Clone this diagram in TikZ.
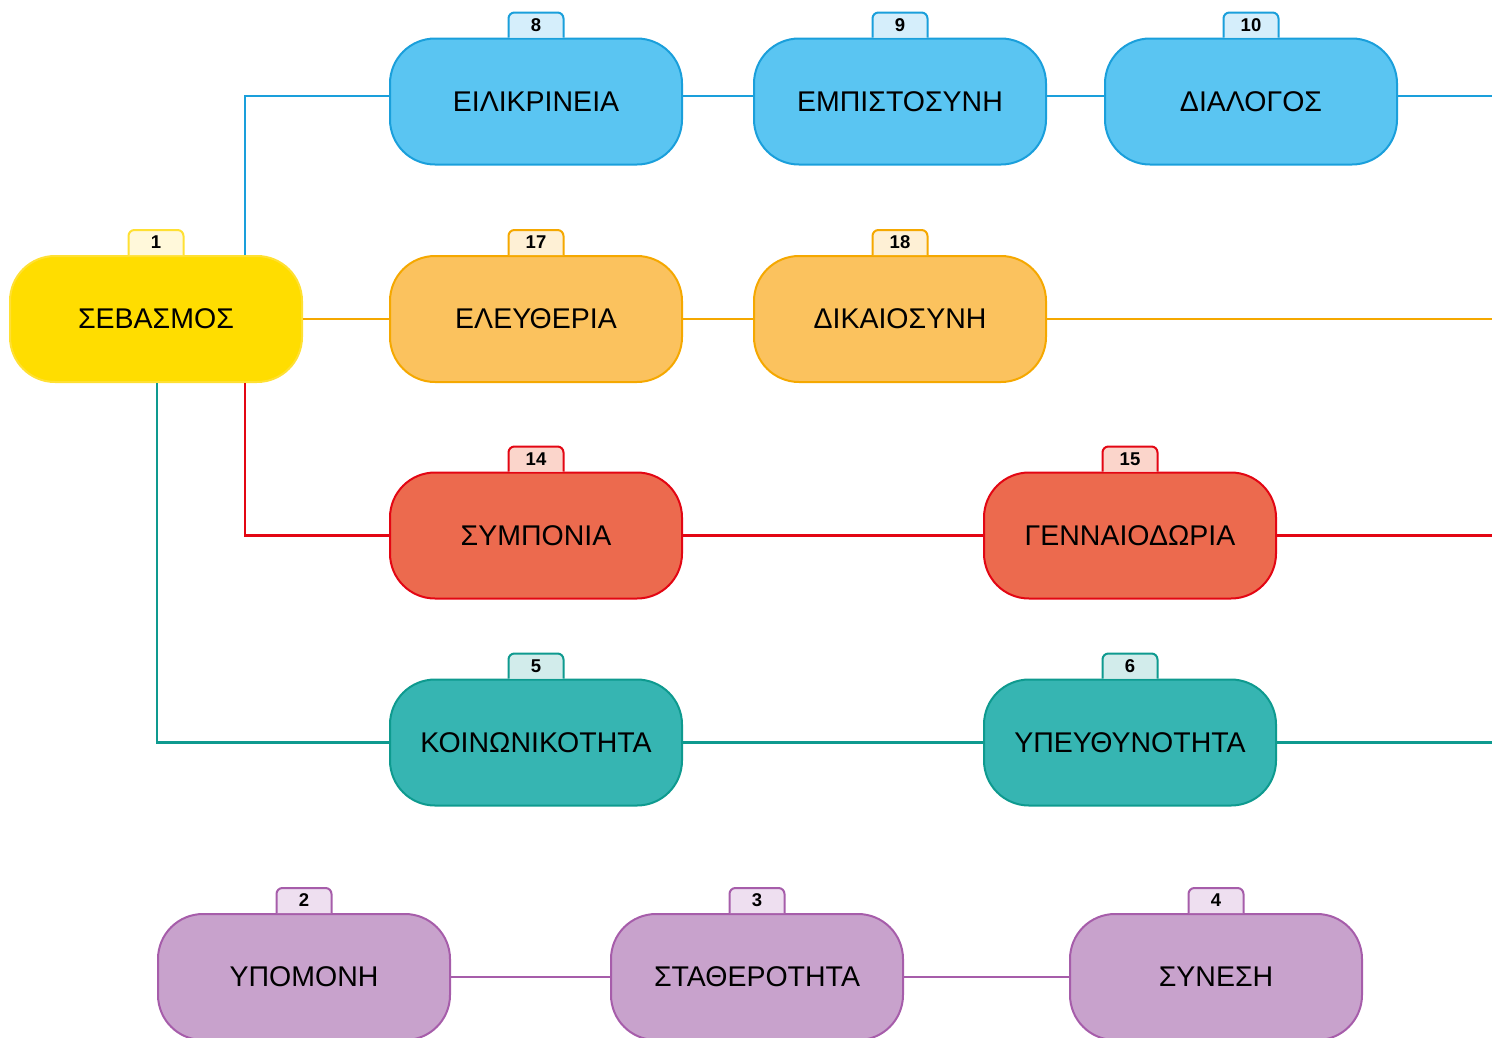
\documentclass[tikz,border=0pt]{standalone}
\usepackage{fontspec}
\setmainfont{Liberation Sans}
\definecolor{yF}{HTML}{FFDD00}\definecolor{yB}{HTML}{FFE033}\definecolor{yT}{HTML}{FFF8DA}
\definecolor{bF}{HTML}{5AC5F2}\definecolor{bB}{HTML}{1A9FDB}\definecolor{bT}{HTML}{D5EEFB}
\definecolor{oF}{HTML}{FBC25E}\definecolor{oB}{HTML}{F5A800}\definecolor{oT}{HTML}{FEF0D5}
\definecolor{rF}{HTML}{EC6A4E}\definecolor{rB}{HTML}{E30613}\definecolor{rT}{HTML}{FBD5CB}
\definecolor{tF}{HTML}{36B5B2}\definecolor{tB}{HTML}{0E9A8F}\definecolor{tT}{HTML}{D2ECEB}
\definecolor{pF}{HTML}{C8A2CC}\definecolor{pB}{HTML}{A65DAA}\definecolor{pT}{HTML}{EEDFF0}
\tikzset{
  box/.style={draw=#1B, fill=#1F, line width=2pt, rounded corners=45pt,
    minimum width=292pt, minimum height=126pt, inner sep=0pt,
    font=\fontsize{28.5}{34}\selectfont},
  tabtxt/.style={inner sep=0pt, font=\bfseries\fontsize{18.5}{22}\selectfont},
  conn/.style={line width=2.2pt, draw=#1B},
}
\newcommand\mytab[3]{%
  \draw[line width=2pt, draw=#3B, fill=#3T, rounded corners=6pt]
    ([xshift=-27.5pt]#1.north) -- ([xshift=-27.5pt,yshift=25pt]#1.north)
    -- ([xshift=27.5pt,yshift=25pt]#1.north) -- ([xshift=27.5pt]#1.north);
  \node[tabtxt] (#1-tab) at ([yshift=12.5pt]#1.north) {#2};
}
\begin{document}
\begin{tikzpicture}[x=1pt,y=-1pt]
\useasboundingbox (0,0) rectangle (1492,1037);
% nodes
\node[box=y] (sev) at (156,319) {\raisebox{-1.5pt}{ΣΕΒΑΣΜΟΣ}};
\node[box=b] (eil) at (536,101.5) {ΕΙΛΙΚΡΙΝΕΙΑ};
\node[box=b] (emp) at (900,101.5) {ΕΜΠΙΣΤΟΣΥΝΗ};
\node[box=b] (dia) at (1251,101.5) {ΔΙΑΛΟΓΟΣ};
\node[box=o] (ele) at (536,319) {\raisebox{-1.5pt}{ΕΛΕΥΘΕΡΙΑ}};
\node[box=o] (dik) at (900,319) {\raisebox{-1.5pt}{ΔΙΚΑΙΟΣΥΝΗ}};
\node[box=r] (sym) at (536,535.5) {ΣΥΜΠΟΝΙΑ};
\node[box=r] (gen) at (1130,535.5) {ΓΕΝΝΑΙΟΔΩΡΙΑ};
\node[box=t] (koi) at (536,742.5) {ΚΟΙΝΩΝΙΚΟΤΗΤΑ};
\node[box=t] (ype) at (1130,742.5) {ΥΠΕΥΘΥΝΟΤΗΤΑ};
\node[box=p] (ypo) at (304,977) {ΥΠΟΜΟΝΗ};
\node[box=p] (sta) at (757,977) {ΣΤΑΘΕΡΟΤΗΤΑ};
\node[box=p] (syn) at (1216,977) {ΣΥΝΕΣΗ};
% tabs
\mytab{sev}{1}{y}
\mytab{eil}{8}{b}
\mytab{emp}{9}{b}
\mytab{dia}{10}{b}
\mytab{ele}{17}{o}
\mytab{dik}{18}{o}
\mytab{sym}{14}{r}
\mytab{gen}{15}{r}
\mytab{koi}{5}{t}
\mytab{ype}{6}{t}
\mytab{ypo}{2}{p}
\mytab{sta}{3}{p}
\mytab{syn}{4}{p}
% free ends
\coordinate (endB) at (1492,96);
\coordinate (endO) at (1492,319);
\coordinate (endR) at (1492,535.5);
\coordinate (endT) at (1492,742.5);
% connectors
\draw[conn=b] ([xshift=89pt]sev.north) |- ([yshift=5.5pt]eil.west);
\draw[conn=b] ([yshift=5.5pt]eil.east) -- ([yshift=5.5pt]emp.west);
\draw[conn=b] ([yshift=5.5pt]emp.east) -- ([yshift=5.5pt]dia.west);
\draw[conn=b] ([yshift=5.5pt]dia.east) -- (endB);
\draw[conn=o] (sev.east) -- (ele.west);
\draw[conn=o] (ele.east) -- (dik.west);
\draw[conn=o] (dik.east) -- (endO);
\draw[conn=r] ([xshift=89pt]sev.south) |- (sym.west);
\draw[conn=r] (sym.east) -- (gen.west);
\draw[conn=r] (gen.east) -- (endR);
\draw[conn=t] ([xshift=1pt]sev.south) |- (koi.west);
\draw[conn=t] (koi.east) -- (ype.west);
\draw[conn=t] (ype.east) -- (endT);
\draw[conn=p] (ypo.east) -- (sta.west);
\draw[conn=p] (sta.east) -- (syn.west);
\end{tikzpicture}
\end{document}
